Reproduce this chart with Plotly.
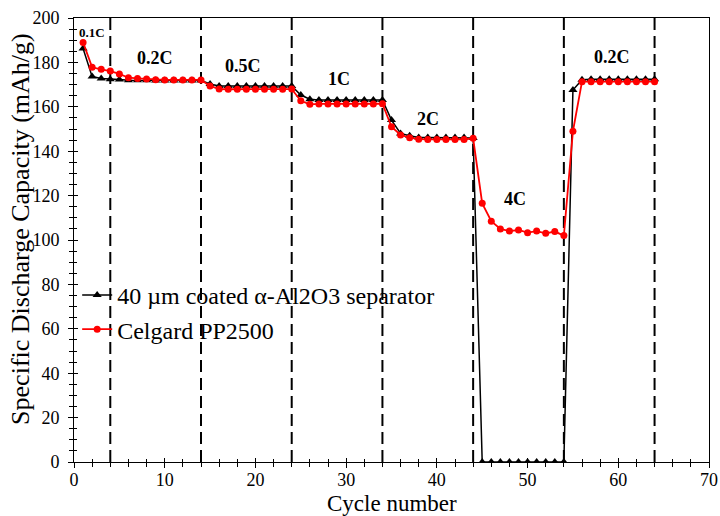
import plotly.graph_objects as go

cycles = list(range(1, 65))

coated = [186.3, 173.6, 172.8, 172.4, 172.3, 172.0, 172.0, 172.0, 171.9, 171.9,
          171.9, 171.9, 171.9, 171.9,
          170.3, 169.4, 169.4, 169.4, 169.4, 169.4, 169.4, 169.4, 169.4, 169.4,
          165.3, 163.4, 163.1, 163.1, 163.1, 163.1, 163.1, 163.1, 163.1, 163.1,
          154.0, 148.0, 147.0, 146.2, 146.2, 146.2, 146.2, 146.2, 146.2, 146.0,
          0, 0, 0, 0, 0, 0, 0, 0, 0, 0,
          167.6, 172.2, 172.4, 172.4, 172.4, 172.4, 172.4, 172.4, 172.4, 172.4]

celgard = [189.0, 177.8, 176.9, 176.1, 174.8, 173.1, 172.8, 172.5, 172.2, 172.1,
           172.1, 172.1, 172.1, 172.1,
           169.4, 168.0, 167.9, 167.9, 167.9, 167.9, 167.9, 167.9, 167.9, 168.0,
           162.7, 161.1, 161.3, 161.3, 161.3, 161.3, 161.3, 161.3, 161.3, 161.4,
           151.0, 147.3, 146.1, 145.4, 145.3, 145.3, 145.3, 145.3, 145.3, 145.8,
           116.5, 108.5, 105.0, 104.0, 104.5, 103.3, 104.0, 103.0, 103.8, 102.0,
           149.0, 171.3, 171.3, 171.3, 171.3, 171.3, 171.3, 171.3, 171.3, 171.3]

boundaries = [4, 14, 24, 34, 44, 54, 64]

rate_labels = ["0.1C", "0.2C", "0.5C", "1C", "2C", "4C", "0.2C"]
rate_x = [2.0, 8.9, 18.6, 29.2, 39.0, 48.6, 59.3]
rate_y = [193.4, 181.8, 178.4, 172.5, 154.5, 118.3, 182.3]
rate_sizes = [13, 18, 18, 18, 18, 18, 18]

x_title = "Cycle number"
y_title = "Specific Discharge Capacity (mAh/g)"

FONT = "Liberation Serif"

fig = go.Figure()

fig.add_trace(go.Scatter(
    x=cycles, y=coated, mode="lines+markers",
    name="40 \u00b5m coated \u03b1-Al2O3 separator",
    line=dict(color="black", width=1.5),
    marker=dict(symbol="triangle-up", size=8, color="black"),
))
fig.add_trace(go.Scatter(
    x=cycles, y=celgard, mode="lines+markers",
    name="Celgard PP2500",
    line=dict(color="#ff0000", width=1.8),
    marker=dict(symbol="circle", size=7, color="#ff0000"),
))
# helper trace for inward tick overlay axes
fig.add_trace(go.Scatter(x=[None], y=[None], xaxis="x2", yaxis="y2",
                         showlegend=False, hoverinfo="skip"))

for b in boundaries:
    fig.add_shape(type="line", x0=b, x1=b, y0=0, y1=200, xref="x", yref="y",
                  line=dict(color="black", width=2, dash="12px,6px"), layer="below")

for lab, lx, ly, ls in zip(rate_labels, rate_x, rate_y, rate_sizes):
    fig.add_annotation(x=lx, y=ly, xref="x", yref="y", text=f"<b>{lab}</b>",
                       showarrow=False, font=dict(family=FONT, size=ls, color="black"))

# axis titles as annotations for exact placement
fig.add_annotation(x=0.5, y=-0.1235, xref="paper", yref="paper", text=x_title,
                   showarrow=False, xanchor="center", yanchor="bottom", borderpad=0,
                   font=dict(family=FONT, size=23, color="black"))
fig.add_annotation(x=-0.0835, y=0.525, xref="paper", yref="paper", text=y_title,
                   showarrow=False, xanchor="center", yanchor="middle", textangle=-90,
                   borderpad=0, font=dict(family=FONT, size=26, color="black"))

axis_common = dict(showline=True, linecolor="black", linewidth=1, showgrid=False,
                   zeroline=False, mirror=True, ticks="outside", ticklen=5,
                   tickcolor="black", tickwidth=1, automargin=False,
                   tickfont=dict(family=FONT, size=18, color="black"))

fig.update_layout(
    width=720, height=516,
    margin=dict(l=74, r=11, t=18, b=54),
    paper_bgcolor="white", plot_bgcolor="white",
    font=dict(family=FONT, color="black"),
    showlegend=True,
    legend=dict(x=0.005, y=0.426, xanchor="left", yanchor="top",
                bgcolor="rgba(0,0,0,0)", font=dict(family=FONT, size=24, color="black"),
                tracegroupgap=0),
    xaxis=dict(range=[0, 70], dtick=10, tick0=0,
               minor=dict(dtick=2, ticks="outside", ticklen=4, tickcolor="black"),
               ticklabelstandoff=-4,
               **axis_common),
    yaxis=dict(range=[0, 200], dtick=20, tick0=0,
               minor=dict(dtick=5, ticks="outside", ticklen=4, tickcolor="black"),
               ticklabelstandoff=5,
               **axis_common),
    xaxis2=dict(range=[0, 70], overlaying="x", anchor="y2", side="bottom",
                dtick=10, tick0=0, ticks="inside", ticklen=4, tickcolor="black",
                showticklabels=False, showgrid=False, zeroline=False, showline=False,
                automargin=False,
                minor=dict(dtick=2, ticks="inside", ticklen=3, tickcolor="black")),
    yaxis2=dict(range=[0, 200], overlaying="y", anchor="x2", side="left",
                dtick=20, tick0=0, ticks="inside", ticklen=4, tickcolor="black",
                showticklabels=False, showgrid=False, zeroline=False, showline=False,
                automargin=False,
                minor=dict(dtick=5, ticks="inside", ticklen=3, tickcolor="black")),
)

fig.write_html("out.html")
